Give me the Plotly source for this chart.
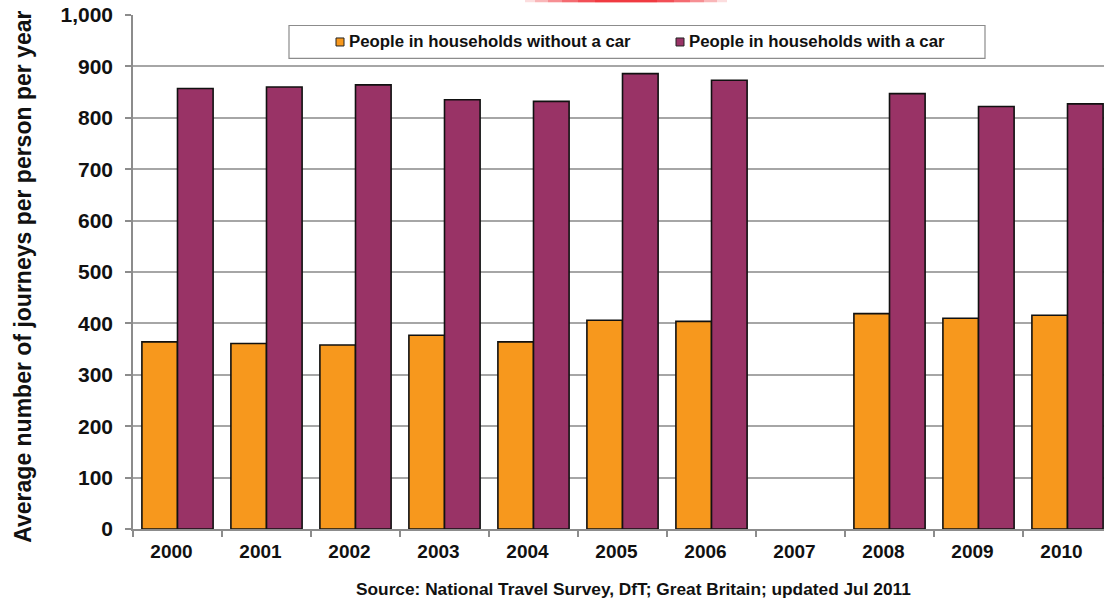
import plotly.graph_objects as go

# National Travel Survey: average journeys per person per year, by car access
years = ["2000", "2001", "2002", "2003", "2004", "2005", "2006", "2007", "2008", "2009", "2010"]
without_car = [364, 361, 358, 377, 364, 406, 404, None, 419, 410, 416]
with_car = [857, 860, 864, 835, 832, 886, 873, None, 847, 822, 827]
series_names = ["People in households without a car", "People in households with a car"]
series_colors = ["#F7981D", "#993366"]
y_ticks = [0, 100, 200, 300, 400, 500, 600, 700, 800, 900, 1000]
y_ticklabels = ["0", "100", "200", "300", "400", "500", "600", "700", "800", "900", "1,000"]
y_title = "Average number of journeys per person per year"
source_note = "Source: National Travel Survey, DfT; Great Britain; updated Jul 2011"

FONT = "Liberation Sans, Arial, sans-serif"

fig = go.Figure()
for name, vals, col in zip(series_names, [without_car, with_car], series_colors):
    fig.add_trace(go.Bar(
        x=years, y=vals, name=name, showlegend=False,
        marker=dict(color=col, line=dict(color="#111111", width=1.6)),
    ))

W, H = 1104, 602
L, R, T, B = 133, 0, 14.5, 73
pw, ph = W - L - R, H - T - B

def px_x(x):
    return (x - L) / pw

def px_y(y):
    return (H - B - y) / ph

fig.update_layout(
    width=W, height=H,
    margin=dict(l=L, r=R, t=T, b=B, autoexpand=False),
    paper_bgcolor="white", plot_bgcolor="white",
    barmode="group", bargap=0.2, bargroupgap=0,
    font=dict(family=FONT, color="#111111"),
    xaxis=dict(
        type="category", range=[-0.5, 10.41],
        showline=True, linecolor="#8C8C8C", linewidth=1.5,
        ticks="outside", tickson="boundaries", ticklen=6, tickcolor="#8C8C8C", tickwidth=1.5,
        tickfont=dict(family=FONT, size=19, color="#111111", weight="bold"),
        ticklabelshift=-6, ticklabelstandoff=4,
        showgrid=False, zeroline=False,
    ),
    yaxis=dict(
        range=[0, 1000], tickvals=y_ticks, ticktext=y_ticklabels,
        showline=True, linecolor="#8C8C8C", linewidth=1.5,
        ticks="outside", ticklen=6, tickcolor="#8C8C8C", tickwidth=1.5,
        tickfont=dict(family=FONT, size=21, color="#111111", weight="bold"),
        ticklabelstandoff=8,
        showgrid=True, gridcolor="#A6A6A6", gridwidth=1.5, zeroline=False,
    ),
)

# Legend box drawn with shapes and annotations
box = dict(x0=289, x1=985, y0=25, y1=58)
shapes = [
    dict(type="rect", xref="paper", yref="paper",
         x0=px_x(box["x0"]), x1=px_x(box["x1"]), y0=px_y(box["y1"]), y1=px_y(box["y0"]),
         line=dict(color="#8C8C8C", width=1.2), fillcolor="white", layer="above"),
]
legend_items = [(336, 347), (676, 687)]
for (sx, tx), name, col in zip(legend_items, series_names, series_colors):
    shapes.append(dict(type="rect", xref="paper", yref="paper",
                       x0=px_x(sx), x1=px_x(sx + 8), y0=px_y(45.5), y1=px_y(37.5),
                       line=dict(color="#222222", width=1), fillcolor=col, layer="above"))
    fig.add_annotation(x=px_x(tx), y=px_y(41.5), xref="paper", yref="paper",
                       text=name, showarrow=False, xanchor="left", yanchor="middle",
                       font=dict(family=FONT, size=16.8, color="#111111", weight="bold"))

# thin red band of an emblem peeking in at the top edge, fading towards its ends
for x0, x1, alpha in [(525, 727, 0.15), (535, 717, 0.2), (548, 704, 0.25),
                      (562, 690, 0.3), (578, 674, 0.35), (595, 657, 0.4)]:
    shapes.append(dict(type="rect", xref="paper", yref="paper",
                       x0=px_x(x0), x1=px_x(x1), y0=px_y(1.8), y1=px_y(-1),
                       line=dict(width=0), fillcolor=f"rgba(238,28,36,{alpha})", layer="above"))
fig.update_layout(shapes=shapes)

fig.add_annotation(x=px_x(23), y=px_y(276.5), xref="paper", yref="paper",
                   text=y_title, showarrow=False, textangle=-90,
                   xanchor="center", yanchor="middle",
                   font=dict(family=FONT, size=23, color="#111111", weight="bold"))
fig.add_annotation(x=px_x(633), y=px_y(589), xref="paper", yref="paper",
                   text=source_note, showarrow=False, xanchor="center", yanchor="middle",
                   font=dict(family=FONT, size=17.3, color="#111111", weight="bold"))

fig.write_html("out.html")
